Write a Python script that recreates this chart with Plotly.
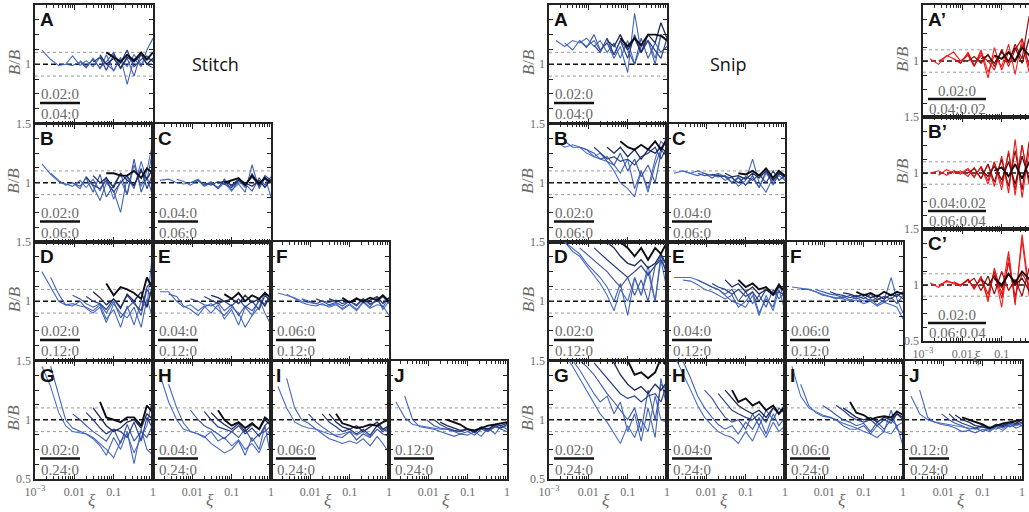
import plotly.graph_objects as go

# ---------------- data ----------------
XI = [0.0015, 0.0025, 0.004, 0.006, 0.009, 0.014, 0.02, 0.03, 0.045, 0.065,
      0.1, 0.15, 0.22, 0.33, 0.5, 0.7, 1.0]

# ---- Stitch ----
ST_A_START = [0, 3, 5, 7, 8, 9]
ST_A = [
    [1.12, 1.04, 0.99, 1.0, 1.07, 0.99, 1.03, 0.98, 1.06, 1.0, 0.95, 1.04, 0.98, 1.08, 1.0, 1.05, 1.03],
    [1.0, 0.99, 1.02, 0.97, 1.05, 0.96, 1.08, 0.94, 1.06, 0.83, 1.05, 0.98, 1.12, 1.22],
    [1.03, 0.98, 1.04, 0.97, 1.02, 1.1, 0.96, 1.05, 0.9, 1.1, 1.0, 0.97],
    [1.02, 1.06, 0.95, 1.08, 1.01, 1.12, 0.98, 1.04, 1.07, 1.02],
    [1.08, 1.0, 1.05, 0.97, 1.06, 1.02, 1.08, 1.0, 1.05],
    [1.1, 1.06, 1.02, 1.08, 1.03, 1.1, 1.04, 1.1],
]
ST_B_START = [0, 1, 4, 6, 7, 9]
ST_B = [
    [1.16, 1.07, 1.01, 0.99, 0.97, 1.02, 0.96, 1.03, 0.93, 1.05, 0.86, 1.02, 0.9, 1.15, 0.97, 1.1, 1.35],
    [1.08, 1.02, 0.98, 1.0, 0.95, 1.05, 0.97, 0.85, 1.0, 0.93, 0.75, 1.05, 0.95, 1.18, 1.02, 1.28],
    [1.0, 0.97, 1.04, 0.92, 1.07, 0.88, 0.98, 1.08, 0.9, 1.2, 0.92, 1.05, 0.88],
    [1.05, 0.98, 0.95, 1.02, 0.92, 1.0, 1.06, 0.97, 1.12, 0.95, 1.08],
    [1.06, 1.0, 1.04, 0.96, 1.08, 1.02, 0.98, 1.1, 1.03, 1.12],
    [1.08, 1.08, 1.06, 1.06, 1.1, 1.04, 1.12, 1.08],
]
ST_C_START = [0, 2, 4, 6, 8, 9]
ST_C = [
    [1.02, 1.03, 1.0, 0.99, 1.0, 1.03, 0.98, 1.01, 0.95, 1.0, 0.93, 1.02, 0.96, 1.08, 0.97, 1.05, 0.88],
    [1.03, 1.01, 0.98, 1.02, 0.97, 1.0, 0.96, 1.02, 0.94, 0.99, 0.92, 1.15, 0.95, 1.04, 1.0],
    [1.0, 1.02, 0.98, 1.0, 0.95, 1.03, 0.97, 1.0, 0.99, 0.93, 1.04, 0.98, 1.05],
    [1.0, 0.98, 1.01, 0.99, 0.96, 1.02, 0.98, 1.05, 0.97, 1.06, 1.02],
    [1.0, 1.01, 0.98, 1.03, 1.0, 0.97, 1.02, 0.96, 1.03],
    [1.0, 1.02, 1.04, 0.98, 1.06, 0.99, 1.04, 1.0],
]
ST_D_START = [0, 1, 4, 6, 7, 9]
ST_D = [
    [1.25, 1.12, 1.0, 0.97, 0.98, 0.96, 0.95, 0.92, 0.97, 0.85, 0.93, 0.78, 0.96, 0.8, 1.0, 0.95, 1.45],
    [1.2, 1.06, 0.97, 0.96, 1.0, 0.94, 0.9, 0.95, 0.82, 0.98, 0.9, 0.86, 0.95, 0.78, 1.02, 0.85],
    [1.05, 1.02, 0.98, 0.95, 0.98, 0.9, 1.0, 0.86, 0.94, 1.0, 0.88, 1.1, 1.02],
    [1.04, 1.0, 0.98, 0.93, 1.02, 0.95, 1.05, 0.98, 0.92, 1.12, 1.18],
    [1.08, 1.03, 0.97, 1.02, 0.94, 1.06, 1.0, 1.08, 0.95, 1.15],
    [1.15, 1.05, 1.12, 1.1, 1.07, 1.02, 1.2, 1.1],
]
ST_E_START = [0, 1, 4, 6, 7, 9]
ST_E = [
    [1.08, 1.08, 1.0, 0.95, 0.97, 0.92, 0.96, 0.9, 0.97, 0.85, 0.93, 0.8, 0.95, 0.88, 1.02, 0.9, 0.8],
    [1.06, 1.04, 0.96, 0.93, 0.88, 0.95, 0.98, 0.93, 0.88, 0.95, 0.9, 0.78, 0.88, 0.95, 1.08, 0.95],
    [1.02, 1.0, 0.97, 0.96, 0.99, 0.92, 0.97, 0.88, 0.96, 0.92, 1.0, 0.98, 1.05],
    [1.04, 1.01, 0.98, 1.0, 0.96, 1.02, 0.95, 1.0, 0.93, 1.05, 1.0],
    [1.05, 1.03, 1.0, 1.02, 0.98, 1.05, 0.99, 1.02, 0.96, 1.06],
    [1.06, 1.02, 1.07, 1.0, 1.05, 1.02, 1.07, 1.03],
]
ST_F_START = [0, 1, 3, 5, 7, 9]
ST_F = [
    [1.07, 1.05, 1.03, 1.0, 0.99, 0.98, 0.97, 0.96, 0.98, 0.93, 0.97, 0.92, 0.99, 0.94, 0.97, 0.96, 0.88],
    [1.06, 1.02, 0.99, 0.97, 0.96, 0.98, 0.95, 0.97, 0.94, 0.98, 0.93, 1.0, 0.95, 1.03, 0.93, 1.0],
    [1.02, 1.0, 0.98, 1.0, 0.97, 0.99, 0.96, 1.0, 0.96, 1.02, 0.97, 1.01, 0.95, 1.03],
    [1.02, 1.0, 0.99, 1.01, 0.98, 1.0, 0.97, 1.02, 0.98, 1.0, 1.04, 0.98],
    [1.02, 1.0, 1.01, 0.99, 1.03, 0.99, 1.01, 1.04, 0.98, 1.03],
    [1.03, 0.99, 1.02, 1.0, 1.03, 1.01, 1.05, 1.0],
]
ST_G_START = [0, 1, 4, 6, 7, 8]
ST_G = [
    [1.45, 1.28, 1.06, 0.95, 0.9, 0.89, 0.88, 0.85, 0.8, 0.75, 0.68, 0.82, 0.88, 0.72, 0.85, 0.95, 1.2],
    [1.45, 1.2, 1.0, 0.93, 0.9, 0.88, 0.84, 0.78, 0.7, 0.85, 0.75, 0.9, 0.63, 0.92, 0.75, 0.7],
    [1.05, 1.0, 0.95, 0.9, 0.86, 0.82, 0.92, 0.8, 0.96, 0.82, 0.9, 0.85, 0.96],
    [1.06, 1.0, 0.93, 0.88, 0.92, 0.9, 0.85, 0.98, 0.82, 1.02, 0.92],
    [1.1, 1.02, 0.95, 0.9, 0.93, 0.98, 1.0, 0.93, 1.05, 1.0],
    [1.15, 1.02, 1.0, 0.98, 1.02, 1.02, 0.95, 1.12, 1.06],
]
ST_H_START = [0, 1, 4, 6, 7, 8]
ST_H = [
    [1.38, 1.15, 1.0, 0.92, 0.9, 0.88, 0.85, 0.9, 0.82, 0.85, 0.78, 0.83, 0.75, 0.8, 0.72, 0.85, 0.92],
    [1.3, 1.1, 0.97, 0.9, 0.88, 0.86, 0.8, 0.76, 0.72, 0.75, 0.82, 0.7, 0.85, 0.75, 0.95, 0.68],
    [1.08, 1.0, 0.95, 0.92, 0.88, 0.84, 0.9, 0.85, 0.92, 0.82, 0.88, 0.9, 0.95],
    [1.07, 1.0, 0.94, 0.92, 0.9, 0.95, 0.88, 0.93, 0.86, 0.95, 1.0],
    [1.06, 1.0, 0.96, 0.92, 0.97, 0.9, 0.96, 0.92, 1.0, 0.95],
    [1.08, 1.0, 0.95, 0.98, 0.93, 0.97, 0.92, 1.02, 0.98],
]
ST_I_START = [0, 1, 4, 6, 7, 8]
ST_I = [
    [1.28, 1.1, 0.98, 0.95, 0.93, 0.92, 0.9, 0.88, 0.87, 0.88, 0.9, 0.87, 0.9, 0.86, 0.95, 0.92, 0.9],
    [1.35, 1.1, 1.0, 0.97, 0.92, 0.88, 0.84, 0.82, 0.8, 0.82, 0.8, 0.84, 0.78, 0.86, 0.8, 0.72],
    [1.05, 0.98, 0.94, 0.9, 0.86, 0.85, 0.9, 0.83, 0.88, 0.85, 0.92, 0.88, 0.86],
    [1.05, 0.98, 0.94, 0.9, 0.92, 0.88, 0.92, 0.87, 0.95, 0.9, 0.94],
    [1.05, 0.98, 0.94, 0.92, 0.95, 0.9, 0.94, 0.98, 0.92, 0.95],
    [1.05, 0.97, 0.95, 0.93, 0.94, 0.96, 0.95, 0.98, 1.0],
]
ST_J_START = [0, 1, 4, 5, 6, 7]
ST_J = [
    [1.15, 1.02, 0.96, 0.95, 0.94, 0.93, 0.92, 0.92, 0.91, 0.9, 0.92, 0.9, 0.93, 0.92, 0.94, 0.93, 0.95],
    [1.2, 1.0, 0.94, 0.93, 0.92, 0.9, 0.88, 0.86, 0.88, 0.87, 0.9, 0.86, 0.93, 0.88, 0.95, 0.92],
    [1.0, 0.95, 0.93, 0.92, 0.9, 0.88, 0.9, 0.87, 0.92, 0.9, 0.94, 0.92, 0.9],
    [1.0, 0.96, 0.93, 0.91, 0.9, 0.92, 0.89, 0.93, 0.91, 0.95, 0.93, 0.96],
    [0.98, 0.95, 0.93, 0.91, 0.92, 0.9, 0.94, 0.92, 0.96, 0.95, 0.97],
    [1.0, 0.98, 0.96, 0.92, 0.91, 0.93, 0.95, 0.96, 0.97, 0.98],
]

# ---- Snip ----
SN_A_START = [0, 1, 3, 5, 7, 9]
SN_A = [
    [1.2, 1.15, 1.2, 1.18, 1.22, 1.15, 1.2, 1.1, 1.18, 1.05, 1.2, 1.0, 1.15, 1.2, 1.05, 1.25, 1.2],
    [1.18, 1.12, 1.2, 1.15, 1.2, 1.12, 1.18, 1.05, 1.15, 0.93, 1.43, 1.1, 1.2, 1.0, 1.25, 1.2],
    [1.2, 1.14, 1.25, 1.12, 1.18, 1.08, 1.2, 1.12, 1.0, 1.22, 1.05, 1.18, 1.1, 1.15],
    [1.16, 1.1, 1.22, 1.08, 1.2, 1.05, 1.25, 1.1, 1.2, 1.12, 1.05, 1.22],
    [1.2, 1.15, 1.25, 1.12, 1.22, 1.1, 1.25, 1.18, 1.35, 1.22],
    [1.22, 1.15, 1.22, 1.16, 1.25, 1.25, 1.24, 1.2],
]
SN_B_START = [0, 1, 3, 5, 7, 9]
SN_B = [
    [1.35, 1.3, 1.32, 1.3, 1.28, 1.22, 1.25, 1.18, 1.1, 1.0, 0.95, 0.88, 1.1, 0.95, 1.2, 1.35, 1.3],
    [1.35, 1.3, 1.3, 1.25, 1.22, 1.2, 1.18, 1.15, 1.08, 1.2, 0.95, 1.1, 0.92, 1.15, 1.28, 1.22],
    [1.3, 1.28, 1.25, 1.2, 1.22, 1.15, 1.25, 1.1, 1.2, 1.05, 1.15, 1.0, 1.25, 1.4],
    [1.3, 1.25, 1.2, 1.22, 1.18, 1.2, 1.15, 1.22, 1.25, 1.3, 1.2, 1.3],
    [1.3, 1.25, 1.3, 1.22, 1.28, 1.2, 1.28, 1.25, 1.3, 1.25],
    [1.35, 1.3, 1.28, 1.32, 1.28, 1.35, 1.28, 1.37],
]
SN_C_START = [0, 1, 3, 5, 7, 9]
SN_C = [
    [1.08, 1.1, 1.08, 1.1, 1.08, 1.06, 1.08, 1.05, 1.0, 1.05, 0.98, 1.04, 0.96, 1.08, 1.0, 1.06, 1.02],
    [1.1, 1.08, 1.06, 1.08, 1.04, 1.07, 1.02, 1.05, 0.97, 1.02, 1.2, 1.0, 0.92, 1.05, 1.1, 1.02],
    [1.08, 1.06, 1.07, 1.05, 1.06, 1.0, 1.04, 0.98, 1.06, 0.96, 1.1, 0.98, 1.08, 1.05],
    [1.07, 1.06, 1.05, 1.04, 1.0, 1.05, 1.02, 1.07, 1.0, 1.1, 1.02, 1.06],
    [1.08, 1.05, 1.06, 1.03, 1.08, 1.04, 1.1, 1.02, 1.08, 1.05],
    [1.08, 1.07, 1.1, 1.06, 1.12, 1.04, 1.1, 1.06],
]
SN_D_START = [0, 1, 3, 5, 7, 9]
SN_D = [
    [1.55, 1.5, 1.42, 1.38, 1.3, 1.22, 1.15, 1.05, 0.92, 1.1, 1.0, 1.2, 1.05, 1.3, 1.0, 1.35, 1.1],
    [1.5, 1.45, 1.4, 1.32, 1.25, 1.2, 1.12, 1.0, 1.15, 0.88, 1.2, 1.05, 1.25, 1.0, 1.4, 1.2],
    [1.45, 1.4, 1.35, 1.3, 1.25, 1.18, 1.12, 1.2, 1.05, 1.18, 1.0, 1.3, 1.38, 1.3],
    [1.45, 1.4, 1.35, 1.3, 1.25, 1.2, 1.25, 1.3, 1.22, 1.3, 1.35, 1.25],
    [1.5, 1.45, 1.38, 1.32, 1.3, 1.35, 1.28, 1.32, 1.4, 1.3],
    [1.5, 1.45, 1.38, 1.45, 1.35, 1.45, 1.4, 1.5],
]
SN_E_START = [0, 1, 3, 5, 7, 9]
SN_E = [
    [1.2, 1.2, 1.2, 1.18, 1.15, 1.12, 1.1, 1.05, 1.0, 0.98, 0.95, 1.05, 0.88, 1.05, 0.92, 1.1, 0.92],
    [1.18, 1.17, 1.14, 1.1, 1.08, 1.05, 1.02, 1.05, 0.95, 1.0, 1.08, 0.9, 1.02, 0.95, 1.15, 1.0],
    [1.18, 1.15, 1.12, 1.1, 1.06, 1.1, 1.0, 1.08, 0.98, 1.05, 0.95, 1.1, 1.02, 1.08],
    [1.15, 1.12, 1.1, 1.06, 1.1, 1.04, 1.08, 1.0, 1.1, 1.05, 1.08, 1.05],
    [1.18, 1.12, 1.15, 1.08, 1.12, 1.06, 1.1, 1.05, 1.12, 1.08],
    [1.18, 1.12, 1.15, 1.1, 1.12, 1.06, 1.14, 1.08],
]
SN_F_START = [0, 1, 3, 5, 7, 9]
SN_F = [
    [1.12, 1.11, 1.1, 1.08, 1.05, 1.04, 1.03, 1.02, 1.0, 1.01, 0.98, 1.0, 0.96, 0.99, 0.97, 0.95, 0.85],
    [1.1, 1.1, 1.08, 1.06, 1.04, 1.02, 1.04, 1.01, 1.03, 1.0, 1.02, 0.97, 1.01, 1.2, 1.02, 0.9],
    [1.1, 1.08, 1.06, 1.05, 1.03, 1.05, 1.02, 1.04, 1.0, 1.03, 0.99, 1.03, 0.98, 1.05],
    [1.08, 1.06, 1.05, 1.03, 1.05, 1.02, 1.06, 1.01, 1.04, 1.02, 1.06, 1.02],
    [1.07, 1.06, 1.04, 1.06, 1.03, 1.05, 1.02, 1.06, 1.04, 1.08],
    [1.08, 1.05, 1.07, 1.04, 1.08, 1.05, 1.08, 1.06],
]
SN_G_START = [0, 1, 3, 5, 7, 9]
SN_G = [
    [1.6, 1.55, 1.45, 1.35, 1.25, 1.15, 1.05, 0.98, 0.88, 0.8, 0.95, 0.85, 1.0, 0.9, 1.2, 1.0, 0.98],
    [1.55, 1.5, 1.42, 1.32, 1.22, 1.15, 1.2, 1.05, 1.15, 0.9, 1.05, 0.82, 1.1, 0.85, 1.35, 1.1],
    [1.5, 1.45, 1.38, 1.3, 1.22, 1.15, 1.08, 1.0, 1.1, 0.9, 1.25, 1.0, 1.3, 1.25],
    [1.48, 1.42, 1.35, 1.28, 1.22, 1.18, 1.2, 1.15, 1.2, 1.22, 1.15, 1.3],
    [1.55, 1.48, 1.38, 1.3, 1.25, 1.28, 1.22, 1.3, 1.25, 1.32],
    [1.55, 1.5, 1.38, 1.4, 1.35, 1.4, 1.52, 1.45],
]
SN_H_START = [0, 1, 4, 6, 7, 8]
SN_H = [
    [1.55, 1.4, 1.25, 1.12, 1.02, 0.95, 0.9, 0.87, 0.85, 0.8, 0.9, 0.82, 0.95, 0.85, 0.98, 0.9, 0.95],
    [1.5, 1.35, 1.2, 1.1, 1.02, 0.96, 0.92, 0.95, 0.88, 0.98, 0.92, 1.02, 0.88, 1.05, 0.95, 1.02],
    [1.25, 1.18, 1.1, 1.02, 0.98, 1.0, 0.92, 1.05, 0.95, 1.08, 1.0, 1.1, 1.05],
    [1.22, 1.15, 1.08, 1.05, 1.02, 1.0, 1.05, 0.98, 1.1, 1.05, 1.1],
    [1.25, 1.18, 1.12, 1.08, 1.05, 1.08, 1.02, 1.1, 1.05, 1.12],
    [1.25, 1.15, 1.18, 1.12, 1.15, 1.08, 1.12, 1.05, 1.12],
]
SN_I_START = [0, 1, 4, 6, 7, 8]
SN_I = [
    [1.45, 1.2, 1.1, 1.07, 1.04, 1.02, 1.0, 0.97, 0.95, 0.93, 0.9, 0.88, 0.85, 0.9, 0.88, 0.95, 0.78],
    [1.3, 1.12, 1.06, 1.03, 1.02, 1.0, 0.95, 0.92, 0.92, 0.95, 0.88, 0.95, 0.9, 1.08, 0.92, 0.88],
    [1.12, 1.08, 1.04, 1.0, 0.98, 0.95, 0.97, 0.9, 0.98, 0.92, 1.0, 0.95, 0.98],
    [1.12, 1.08, 1.03, 1.0, 0.98, 1.0, 0.95, 1.0, 0.97, 1.05, 1.0],
    [1.1, 1.06, 1.02, 1.0, 1.02, 0.98, 1.02, 1.0, 1.05, 1.02],
    [1.15, 1.06, 1.04, 1.0, 1.02, 1.03, 1.02, 1.07, 1.04],
]
SN_J_START = [0, 1, 4, 5, 6, 7]
SN_J = [
    [1.2, 1.05, 1.0, 0.98, 0.97, 0.96, 0.95, 0.94, 0.93, 0.92, 0.94, 0.91, 0.95, 0.93, 0.96, 0.95, 0.97],
    [1.25, 1.02, 0.98, 0.96, 0.95, 0.93, 0.9, 0.91, 0.89, 0.92, 0.9, 0.94, 0.91, 0.96, 0.93, 0.95],
    [1.05, 1.0, 0.97, 0.95, 0.92, 0.93, 0.9, 0.94, 0.92, 0.96, 0.94, 0.97, 0.95],
    [1.05, 1.0, 0.97, 0.95, 0.93, 0.95, 0.92, 0.96, 0.94, 0.97, 0.96, 0.98],
    [1.04, 1.0, 0.98, 0.95, 0.94, 0.93, 0.96, 0.95, 0.98, 0.97, 1.0],
    [1.02, 1.0, 0.98, 0.96, 0.93, 0.95, 0.97, 0.98, 0.99, 1.0],
]

# ---- Snip, primed (red) ----
PR_A_START = [0, 1, 3, 5, 7, 9]
PR_A = [
    [1.02, 0.97, 1.05, 1.02, 0.98, 1.08, 0.96, 1.1, 0.9, 1.05, 0.95, 1.15, 0.88, 1.2, 0.95, 1.1, 1.0],
    [1.0, 1.04, 1.08, 1.0, 1.05, 0.95, 1.08, 0.85, 1.12, 0.92, 1.08, 1.0, 1.15, 0.9, 1.05, 1.02],
    [1.02, 0.98, 1.06, 0.96, 1.05, 1.0, 0.92, 1.1, 0.95, 1.1, 1.2, 0.95, 1.08, 1.0],
    [1.0, 1.04, 0.98, 1.06, 0.95, 1.1, 0.98, 1.15, 1.02, 1.4, 1.1, 1.05],
    [1.02, 1.05, 0.98, 1.08, 1.0, 1.12, 0.98, 1.2, 1.05, 1.1],
    [1.05, 1.02, 1.08, 1.0, 1.12, 1.05, 1.08, 1.1],
]
PR_B_START = [0, 1, 3, 5, 7, 9]
PR_B = [
    [1.0, 1.02, 0.98, 1.02, 1.0, 1.04, 0.97, 1.05, 0.9, 1.1, 0.85, 1.2, 0.8, 1.25, 0.9, 1.1, 1.0],
    [0.98, 1.03, 1.0, 1.02, 0.97, 1.05, 0.95, 1.08, 0.88, 1.15, 0.82, 1.3, 0.78, 1.2, 1.0, 0.95],
    [1.02, 0.99, 1.03, 0.96, 1.06, 0.93, 1.1, 0.9, 1.18, 0.85, 1.25, 0.9, 1.15, 1.0],
    [1.0, 1.04, 0.95, 1.08, 0.92, 1.12, 0.88, 1.2, 0.85, 1.28, 0.95, 1.1],
    [1.03, 0.97, 1.06, 0.94, 1.1, 0.9, 1.15, 0.95, 1.1, 1.0],
    [1.02, 1.05, 0.97, 1.08, 0.95, 1.1, 0.98, 1.05],
]
PR_C_START = [0, 1, 3, 5, 7, 9]
PR_C = [
    [1.02, 0.98, 1.04, 1.01, 1.0, 1.04, 0.98, 1.05, 0.88, 1.12, 0.8, 1.25, 0.85, 1.4, 0.9, 1.2, 1.0],
    [1.0, 1.03, 1.02, 0.99, 1.05, 0.96, 1.08, 0.85, 1.15, 0.92, 1.3, 0.82, 1.45, 0.95, 1.1, 1.0],
    [1.03, 1.0, 1.05, 0.97, 1.06, 0.92, 1.12, 0.88, 1.2, 0.9, 1.1, 1.0, 1.2, 0.95],
    [1.02, 1.06, 0.95, 1.08, 0.92, 1.12, 0.95, 1.05, 0.9, 1.15, 1.0, 1.1],
    [1.05, 1.0, 1.08, 0.98, 1.1, 1.0, 1.06, 0.95, 1.1, 1.02],
    [1.06, 1.0, 1.1, 1.02, 1.12, 1.05, 1.0, 1.08],
]

Y_MINOR = [0.625, 0.75, 0.875, 1.125, 1.25, 1.375]
X_MINOR = [k * 10.0 ** e for e in (-3, -2, -1) for k in range(2, 10)]

# panel: (group, letter, numerator, denominator, starts, series, row, col)
PANELS = [
    ("st", "A", "0.02:0", "0.04:0", ST_A_START, ST_A, 0, 0),
    ("st", "B", "0.02:0", "0.06:0", ST_B_START, ST_B, 1, 0),
    ("st", "C", "0.04:0", "0.06:0", ST_C_START, ST_C, 1, 1),
    ("st", "D", "0.02:0", "0.12:0", ST_D_START, ST_D, 2, 0),
    ("st", "E", "0.04:0", "0.12:0", ST_E_START, ST_E, 2, 1),
    ("st", "F", "0.06:0", "0.12:0", ST_F_START, ST_F, 2, 2),
    ("st", "G", "0.02:0", "0.24:0", ST_G_START, ST_G, 3, 0),
    ("st", "H", "0.04:0", "0.24:0", ST_H_START, ST_H, 3, 1),
    ("st", "I", "0.06:0", "0.24:0", ST_I_START, ST_I, 3, 2),
    ("st", "J", "0.12:0", "0.24:0", ST_J_START, ST_J, 3, 3),
    ("sn", "A", "0.02:0", "0.04:0", SN_A_START, SN_A, 0, 0),
    ("sn", "B", "0.02:0", "0.06:0", SN_B_START, SN_B, 1, 0),
    ("sn", "C", "0.04:0", "0.06:0", SN_C_START, SN_C, 1, 1),
    ("sn", "D", "0.02:0", "0.12:0", SN_D_START, SN_D, 2, 0),
    ("sn", "E", "0.04:0", "0.12:0", SN_E_START, SN_E, 2, 1),
    ("sn", "F", "0.06:0", "0.12:0", SN_F_START, SN_F, 2, 2),
    ("sn", "G", "0.02:0", "0.24:0", SN_G_START, SN_G, 3, 0),
    ("sn", "H", "0.04:0", "0.24:0", SN_H_START, SN_H, 3, 1),
    ("sn", "I", "0.06:0", "0.24:0", SN_I_START, SN_I, 3, 2),
    ("sn", "J", "0.12:0", "0.24:0", SN_J_START, SN_J, 3, 3),
    ("pr", "A\u2019", "0.02:0", "0.04:0.02", PR_A_START, PR_A, 0, 0),
    ("pr", "B\u2019", "0.04:0.02", "0.06:0.04", PR_B_START, PR_B, 1, 0),
    ("pr", "C\u2019", "0.02:0", "0.06:0.04", PR_C_START, PR_C, 2, 0),
]

# ---------------- layout / styling ----------------
W, H = 1029, 512
BLUES = ["#4a6cc8", "#4264bc", "#3855a6", "#2b4188", "#1d2a5c", "#0c0c14"]
REDS = ["#ff1e1e", "#f01616", "#d01010", "#9c0e0e", "#600a0a", "#1c0808"]
WIDTHS = [1.1, 1.1, 1.1, 1.2, 1.3, 1.9]
GROUP_LEFT = {"st": [35, 153, 271, 389], "sn": [549, 667, 785, 904], "pr": [923]}
ROW_TOP = {"st": [5, 123.5, 242, 360.5], "sn": [5, 123.5, 242, 360.5], "pr": [5, 117, 229]}
PANEL_W = 118
PANEL_H = {"st": 118.5, "sn": 118.5, "pr": 112}
LAST_ROW = {"st": 3, "sn": 3, "pr": 2}
SERIF = "Liberation Serif, Times New Roman, serif"
SANS = "Liberation Sans, Arial, sans-serif"
GRAY = "#6a6a6a"


def fx(p):
    return p / W


def fy(p):
    return 1 - p / H


fig = go.Figure()
shapes, annos = [], []
layout = {}

for n, (grp, letter, num, den, starts, series, r, c) in enumerate(PANELS, start=1):
    left = GROUP_LEFT[grp][c]
    top = ROW_TOP[grp][r]
    ph = PANEL_H[grp]
    right = left + PANEL_W
    xr = [-3, 0]
    if right > W:
        # panel is cut by the picture's right edge
        xr = [-3, -3 + 3 * (W - left) / PANEL_W]
        right = W
    xs = "" if n == 1 else str(n)
    xa, ya = "x" + xs, "y" + xs
    bottom_row = r == LAST_ROW[grp]
    first_col = c == 0

    if first_col:
        xt_vals = [0.001, 0.01, 0.1, 1]
        xt_text = ["10<sup>\u22123</sup>", "0.01", "0.1", "1"]
        xminor = X_MINOR
    else:
        xt_vals = [0.01, 0.1, 1]
        xt_text = ["0.01", "0.1", "1"]
        xminor = X_MINOR + [0.001]
    if grp == "pr":
        xt_vals, xt_text = xt_vals[:3], xt_text[:3]
    layout["xaxis" + xs] = dict(
        type="log", range=xr, domain=[fx(left), fx(right)], anchor=ya, automargin=False,
        showline=True, linecolor="#222", linewidth=1.6, mirror="allticks",
        ticks="inside", ticklen=5, tickcolor="#222", tickwidth=1,
        tickmode="array", tickvals=xt_vals, ticktext=xt_text,
        showticklabels=bottom_row, ticklabelstandoff=1,
        tickfont=dict(family=SERIF, size=12, color=GRAY),
        minor=dict(tickmode="array", tickvals=xminor, ticks="inside", ticklen=3,
                   tickcolor="#222", tickwidth=1, showgrid=False),
        showgrid=False, zeroline=False, fixedrange=True,
    )
    if bottom_row:
        yt_vals, yt_text = [0.5, 1.0, 1.5], ["0.5", "1", "1.5"]
        yminor = Y_MINOR
    else:
        yt_vals, yt_text = [1.0, 1.5], ["1", "1.5"]
        yminor = Y_MINOR + [0.5]
    layout["yaxis" + xs] = dict(
        range=[0.5, 1.5], domain=[fy(top + ph), fy(top)], anchor=xa, automargin=False,
        showline=True, linecolor="#222", linewidth=1.6,
        mirror=("allticks" if grp != "pr" else False),
        ticks="inside", ticklen=4, tickcolor="#222", tickwidth=1,
        tickmode="array", tickvals=yt_vals, ticktext=yt_text, showticklabels=first_col,
        tickfont=dict(family=SERIF, size=12, color=GRAY),
        minor=dict(tickmode="array", tickvals=yminor, ticks="inside", ticklen=4,
                   tickcolor="#222", tickwidth=1, showgrid=False),
        showgrid=False, zeroline=False, fixedrange=True,
    )

    # reference lines
    dref = xa + " domain"
    for yv, col, dash, wd in [(0.9, "#9a9a9a", "dot", 1), (1.1, "#9a9a9a", "dot", 1),
                              (1.0, "#111", "5px,3px", 1.3)]:
        shapes.append(dict(type="line", xref=dref, x0=0, x1=1, yref=ya, y0=yv, y1=yv,
                           line=dict(color=col, width=wd, dash=dash), layer="below"))

    palette = REDS if grp == "pr" else BLUES
    for k, (s0, ys) in enumerate(zip(starts, series)):
        fig.add_trace(go.Scatter(
            x=XI[s0:s0 + len(ys)], y=ys, mode="lines", xaxis=xa, yaxis=ya,
            line=dict(color=palette[k], width=WIDTHS[k]), showlegend=False,
            hoverinfo="skip"))

    # panel letter
    annos.append(dict(text="<b>%s</b>" % letter, xref="paper", yref="paper",
                      x=fx(left + 3), y=fy(top + 2), xanchor="left", yanchor="top",
                      showarrow=False, font=dict(family=SANS, size=19, color="#111")))
    # ratio label
    if grp == "pr":
        cx, lx0, lx1, yn, yl, yd = left + 34, left + 5, left + 63, top + 86, top + 94, top + 104
    else:
        cx, lx0, lx1, yn, yl, yd = left + 25, left + 5, left + 45, top + 89, top + 98, top + 109
    annos.append(dict(text=num, xref="paper", yref="paper", x=fx(cx), y=fy(yn),
                      xanchor="center", yanchor="middle", showarrow=False,
                      font=dict(family=SERIF, size=15, color=GRAY)))
    annos.append(dict(text=den, xref="paper", yref="paper", x=fx(cx), y=fy(yd),
                      xanchor="center", yanchor="middle", showarrow=False,
                      font=dict(family=SERIF, size=15, color=GRAY)))
    shapes.append(dict(type="line", xref="paper", yref="paper", x0=fx(lx0), x1=fx(lx1),
                       y0=fy(yl), y1=fy(yl), line=dict(color="#111", width=2.6)))

    # axis titles (the last primed panel has none: it would sit on panel F)
    if first_col and not (grp == "pr" and bottom_row):
        annos.append(dict(text="<i>B</i>/<i>B</i>", xref="paper", yref="paper",
                          x=fx(left - 21), y=fy(top + ph / 2 - 2), textangle=-90,
                          xanchor="center", yanchor="middle", showarrow=False,
                          font=dict(family=SERIF, size=17, color=GRAY)))
    if bottom_row:
        xi_y = top + ph + (21 if grp != "pr" else 16)
        xi_x = left + PANEL_W / 2 - 2 if grp != "pr" else left + 54
        annos.append(dict(text="<i>\u03be</i>", xref="paper", yref="paper",
                          x=fx(xi_x), y=fy(xi_y), xanchor="center", yanchor="middle",
                          showarrow=False, font=dict(family=SERIF, size=17, color=GRAY)))

annos.append(dict(text="Stitch", xref="paper", yref="paper", x=fx(215), y=fy(64),
                  xanchor="center", yanchor="middle", showarrow=False,
                  font=dict(family="Open Sans, sans-serif", size=18, color="#111")))
annos.append(dict(text="Snip", xref="paper", yref="paper", x=fx(728), y=fy(64),
                  xanchor="center", yanchor="middle", showarrow=False,
                  font=dict(family="Open Sans, sans-serif", size=18, color="#111")))

fig.update_layout(
    width=W, height=H, margin=dict(l=0, r=0, t=0, b=0, autoexpand=False),
    paper_bgcolor="white", plot_bgcolor="white",
    shapes=shapes, annotations=annos, showlegend=False, **layout,
)
fig.write_html("out.html",
               config={"displayModeBar": False, "staticPlot": True},
               post_script="document.body.style.margin='0px';"
                           "document.body.style.overflow='hidden';")
